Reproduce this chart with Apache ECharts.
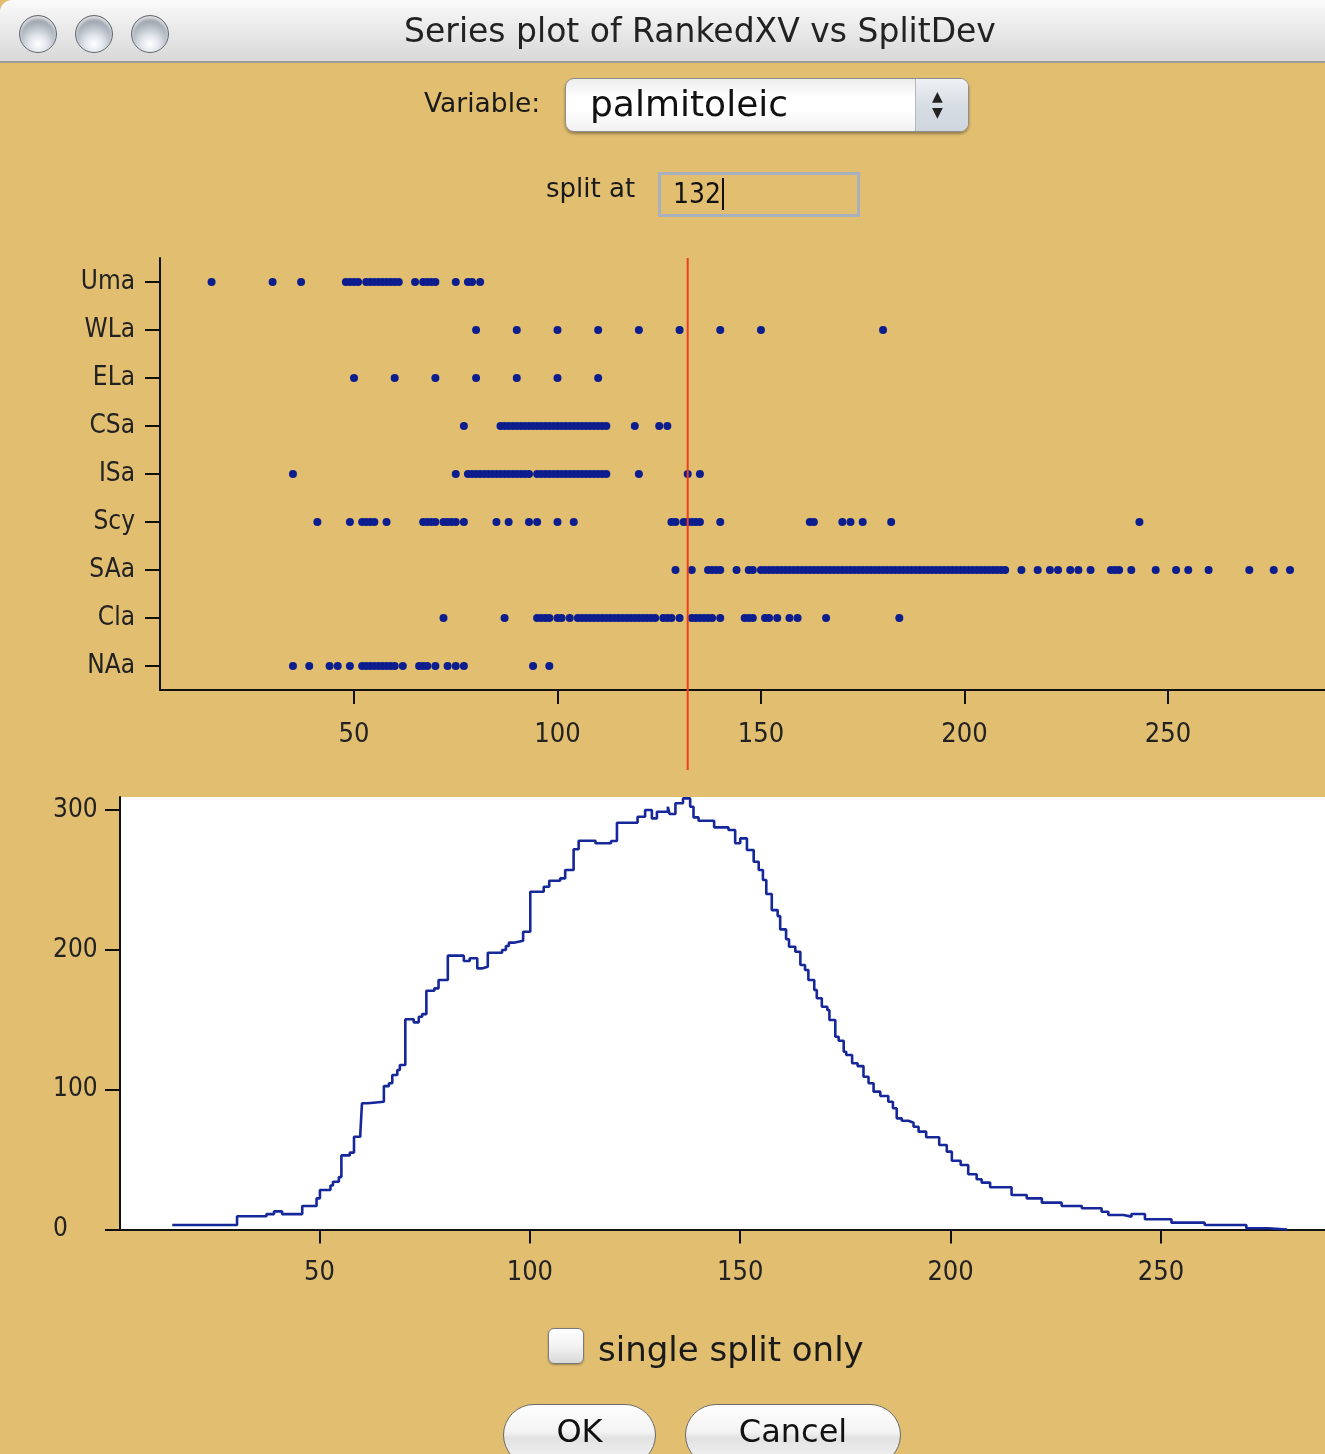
<!DOCTYPE html>
<html>
<head>
<meta charset="utf-8">
<script src="https://cdn.jsdelivr.net/npm/echarts@6/dist/echarts.min.js"></script>
<style>
  html, body { margin:0; padding:0; }
  body { width:1325px; height:1454px; overflow:hidden; background:#E2BE70; position:relative;
         font-family:"DejaVu Sans", sans-serif; color:#1a1a1a; }
  #chart { position:absolute; left:0; top:0; width:1325px; height:1454px; }
  .abs { position:absolute; white-space:nowrap; }
  #titlebar { left:0; top:0; width:1325px; height:61px; border-top-left-radius:12px;
    background:linear-gradient(#fbfbfb, #ececec 40%, #d8d8d8); border-bottom:2px solid #9c9c9c; }
  .light { width:36px; height:36px; border-radius:50%; border:1px solid #666c73; top:15px;
    background:radial-gradient(circle at 50% 78%, #ffffff 0%, #e4e8ee 25%, #a9b0b9 62%, #6f767e 100%);
    box-shadow: inset 0 3px 3px rgba(255,255,255,0.7); }
  #title { left:380px; width:640px; top:11px; text-align:center; font-size:33px; color:#222; }
  #varlab { left:424px; top:87px; font-size:26.5px; }
  #combo { left:565px; top:78px; width:402px; height:52px; border-radius:9px; border:1px solid #8d8d8d;
    background:linear-gradient(#ececec, #ffffff 35%, #ffffff 60%, #f1f1f1); box-shadow:0 2px 3px rgba(0,0,0,0.35); overflow:hidden; }
  #combotext { left:24px; top:4px; font-size:36px; color:#111; }
  #combobtn { right:0; top:0; width:52px; height:52px; border-left:1px solid #b4b9c0;
    background:linear-gradient(#eef1f5, #d6dce3 55%, #cfd6de); }
  .arrow { left:16px; font-size:14px; color:#222; }
  #splitlab { left:546px; top:173px; font-size:26px; }
  #field { left:658px; top:172px; width:196px; height:39px; border:3px solid #a8b1bd; }
  #fieldtext { left:12px; top:3px; font-size:28px; line-height:32px; color:#111;
    font-family:"DejaVu Sans Condensed", "DejaVu Sans", sans-serif; font-stretch:condensed;
    border-right:2px solid #111; padding-right:1px; }
  #check { left:548px; top:1328px; width:34px; height:34px; border-radius:6px; border:1px solid #7a7a7a;
    background:linear-gradient(#ffffff, #f2f2f2 50%, #d9d9d9); box-shadow:0 1px 2px rgba(0,0,0,0.3); }
  #checklab { left:598px; top:1329px; font-size:34px; }
  .btn { top:1404px; height:62px; border-radius:31px; border:1.5px solid #6b6b6b;
    background:linear-gradient(#fefefe, #f3f3f3 45%, #e2e2e2 55%, #f6f6f6); text-align:center;
    font-size:32px; line-height:52px; color:#111; box-sizing:border-box; }
</style>
</head>
<body>
<div id="chart"></div>

<div id="titlebar" class="abs"></div>
<div class="abs light" style="left:19px"></div>
<div class="abs light" style="left:75px"></div>
<div class="abs light" style="left:131px"></div>
<div id="title" class="abs">Series plot of RankedXV vs SplitDev</div>

<div id="varlab" class="abs">Variable:</div>
<div id="combo" class="abs">
  <div id="combotext" class="abs">palmitoleic</div>
  <div id="combobtn" class="abs">
    <div class="abs arrow" style="top:9px">▲</div>
    <div class="abs arrow" style="top:25px">▼</div>
  </div>
</div>

<div id="splitlab" class="abs">split at</div>
<div id="field" class="abs">
  <div id="fieldtext" class="abs">132</div>
</div>

<div id="check" class="abs"></div>
<div id="checklab" class="abs">single split only</div>
<div class="abs btn" style="left:503px; width:153px;">OK</div>
<div class="abs btn" style="left:685px; width:216px;">Cancel</div>

<script>
// ---------- data ----------
const categories = ['NAa', 'Cla', 'SAa', 'Scy', 'ISa', 'CSa', 'ELa', 'WLa', 'Uma']; // bottom -> top

const Uma = [15, 30, 37, 48, 49, 50, 51, 53, 54, 55, 56, 57, 58, 59, 60, 61, 65, 67, 68, 69, 70, 75, 78, 79, 81];
const WLa = [80, 90, 100, 110, 120, 130, 140, 150, 180];
const ELa = [50, 60, 70, 80, 90, 100, 110];
const CSa = [77, 86, 87, 88, 89, 90, 91, 92, 93, 94, 95, 96, 97, 98, 99, 100, 101, 102, 103, 104, 105, 106, 107, 108, 109, 110, 111, 112, 119, 125, 127];
const ISa = [35, 75, 78, 79, 80, 81, 82, 83, 84, 85, 86, 87, 88, 89, 90, 91, 92, 93, 95, 96, 97, 98, 99, 100, 101, 102, 103, 104, 105, 106, 107, 108, 109, 110, 111, 112, 120, 132, 135];
const Scy = [41, 49, 52, 53, 54, 55, 58, 67, 68, 69, 70, 72, 73, 74, 75, 77, 85, 88, 93, 95, 100, 104, 128, 129, 131, 132, 133, 134, 135, 140, 162, 163, 170, 172, 175, 182, 243];
const SAa = [129, 133, 137, 138, 139, 140, 144, 147, 148,
  150, 151, 152, 153, 154, 155, 156, 157, 158, 159, 160, 161, 162, 163, 164, 165, 166, 167, 168, 169, 170,
  171, 172, 173, 174, 175, 176, 177, 178, 179, 180, 181, 182, 183, 184, 185, 186, 187, 188, 189, 190,
  191, 192, 193, 194, 195, 196, 197, 198, 199, 200, 201, 202, 203, 204, 205, 206, 207, 208, 209, 210,
  214, 218, 221, 223, 226, 228, 231, 236, 237, 238, 241, 247, 252, 255, 260, 270, 276, 280];
const Cla = [72, 87, 95, 96, 97, 98, 100, 101, 103, 105, 106, 107, 108, 109, 110, 111, 112, 113, 114, 115, 116, 117, 118, 119, 120, 121, 122, 123, 124,
  126, 127, 128, 130, 133, 134, 135, 136, 137, 138, 140, 146, 147, 148, 151, 152, 154, 157, 159, 166, 184];
const NAa = [35, 39, 44, 46, 49, 52, 53, 54, 55, 56, 57, 58, 59, 60, 62, 66, 67, 68, 70, 73, 75, 77, 94, 98];

const splitAt = 132;

const topTicks = [50, 100, 150, 200, 250];
const histXTicks = [50, 100, 150, 200, 250];
const histYTicks = [0, 100, 200, 300];

// step curve: x where the level starts, and the level
const histX = [15, 30.4, 37.4, 39.2, 41.1, 45.9, 49.3, 50.1, 52.6, 53.2, 54.6, 55.2, 57.2, 58.2, 59.7, 60.1, 61.5,
  65.3, 66.5, 67.3, 68.5, 69.1, 70.4, 72.4, 73.6, 74.4, 75.4, 77.3, 78.3, 80.5, 84.3, 85.7, 87.5, 88.6, 90,
  93.4, 94.3, 95, 96.2, 98.4, 100.1, 103.3, 104.6, 107.2, 108.4, 110.4, 111.6, 115.6, 119.3, 120.7, 125.6,
  127.4, 129, 130.2, 132.8, 133.2, 134.6, 136.4, 138.1, 138.9, 140.1, 143.8, 147.2, 148.8, 150, 151.6, 153.2,
  154.4, 155.4, 156.2, 157.5, 158.9, 159.5, 160.9, 161.6, 163.1, 164.3, 165.4, 166.2, 167.6, 168.2, 169.4,
  170.7, 171.2, 172.6, 173.4, 174.6, 175.2, 176.6, 177.9, 179.3, 180.5, 181.7, 183.3, 185.2, 186.3, 187.2,
  188.4, 190, 191.2, 192.4, 194.2, 197.3, 199.1, 200.3, 202.4, 204.2, 206.2, 207.4, 209.4, 214.5, 218.1,
  221.7, 226.4, 231.2, 235.9, 237.5, 241.1, 243, 246.2, 252.5, 260.4, 270.3, 275.5, 280];
const histY = [3.2, 9.5, 11, 13, 11, 16.8, 22.3, 28.3, 31.5, 34.2, 37.5, 53, 55, 66.4, 68.8, 90.3, 91.4,
  102.6, 104.6, 110.5, 114.1, 117.7, 150.4, 148.2, 152.2, 154.1, 170.8, 172.5, 178.5, 195.9, 192.1, 194, 186.8, 188, 198,
  199.9, 202.8, 205.2, 206.6, 213, 241.6, 245.2, 249.5, 251.2, 257.2, 272, 278.1, 276.3, 277.9, 291, 295.3,
  300.1, 294.1, 298.9, 302.4, 297.2, 304.9, 308.4, 302.4, 294.8, 292.4, 287.7, 285.8, 276.3, 279.8, 271.5, 263.1,
  257.2, 250, 240, 228.5, 224.2, 214.7, 207.6, 202.3, 198.7, 189.2, 185.6, 178.5, 171.3, 165.4, 159.4,
  157, 149.9, 137.9, 135, 127.2, 124.8, 118.9, 116.9, 109.3, 104.6, 98.6, 95.5, 91.4, 86.7, 79.5,
  77.8, 76.4, 73.5, 70, 66, 60.4, 55.7, 49.2, 46.1, 39.5, 35.9, 33.5, 30.2, 24.7, 22.3,
  19.2, 16.8, 15.2, 12.7, 10.4, 9.2, 11.1, 7.3, 4.9, 3.2, 0.9, 0, 0];

// ---------- build ----------
const groups = { NAa, Cla, SAa, Scy, ISa, CSa, ELa, WLa, Uma };
const dots = [];
categories.forEach(c => groups[c].forEach(v => dots.push([v, c])));
const curve = histX.map((x, i) => [x, histY[i]]);

const FONT = '"DejaVu Sans Condensed", "DejaVu Sans", sans-serif';
const AX = { color: '#111', width: 2 };
const LBL = { color: '#222', fontFamily: FONT, fontSize: 27 };

const chart = echarts.init(document.getElementById('chart'), null, { renderer: 'canvas' });
chart.setOption({
  animation: false,
  backgroundColor: 'transparent',
  grid: [
    { left: 160, top: 258, width: 1165, height: 432, show: false },
    { left: 120, top: 797, width: 1205, height: 432.5, show: true, backgroundColor: '#ffffff', borderWidth: 0 }
  ],
  xAxis: [
    { type: 'value', gridIndex: 0, min: 2.33, max: 288.6,
      axisLine: { show: true, onZero: false, lineStyle: AX },
      axisTick: { show: true, length: 14, lineStyle: AX, customValues: topTicks },
      axisLabel: Object.assign({ show: true, margin: 31, customValues: topTicks, lineHeight: 27 }, LBL),
      splitLine: { show: false } },
    { type: 'value', gridIndex: 1, min: 2.58, max: 289,
      axisLine: { show: true, onZero: false, lineStyle: AX },
      axisTick: { show: true, length: 14, lineStyle: AX, customValues: histXTicks },
      axisLabel: Object.assign({ show: true, margin: 30, customValues: histXTicks, lineHeight: 27 }, LBL),
      splitLine: { show: false } }
  ],
  yAxis: [
    { type: 'category', gridIndex: 0, data: categories,
      axisLine: { show: true, onZero: false, lineStyle: AX },
      axisTick: { show: true, alignWithLabel: true, length: 15, lineStyle: AX },
      axisLabel: Object.assign({}, LBL, { show: true, margin: 25, fontSize: 26 }),
      splitLine: { show: false } },
    { type: 'value', gridIndex: 1, min: 0, max: 309.4,
      axisLine: { show: true, onZero: false, lineStyle: AX },
      axisTick: { show: true, length: 15, lineStyle: AX, customValues: histYTicks },
      axisLabel: Object.assign({}, LBL, { show: true, margin: 67, fontSize: 26, align: 'left', customValues: histYTicks }),
      splitLine: { show: false } }
  ],
  series: [
    { type: 'scatter', xAxisIndex: 0, yAxisIndex: 0, data: dots, symbol: 'circle', symbolSize: 8,
      itemStyle: { color: '#0c1e8e', opacity: 1 } },
    { type: 'line', xAxisIndex: 1, yAxisIndex: 1, data: curve, step: 'end', showSymbol: false, symbol: 'none',
      lineStyle: { color: '#16279a', width: 2.6 } }
  ]
});

// red split line through the top axis scale, extending below the plot
const sx = chart.convertToPixel({ xAxisIndex: 0 }, splitAt);
chart.setOption({
  graphic: [{ type: 'line', z: 100, shape: { x1: sx, y1: 258, x2: sx, y2: 770 },
    style: { stroke: '#ef3f1d', lineWidth: 2 } }]
});
</script>
</body>
</html>
